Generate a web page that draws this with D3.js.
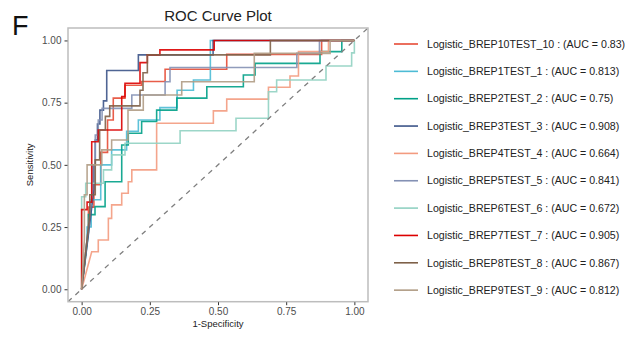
<!DOCTYPE html>
<html><head><meta charset="utf-8">
<script src="https://cdn.jsdelivr.net/npm/d3@7"></script>
<style>body{margin:0;background:#fff;} svg{display:block;font-family:"Liberation Sans",Arial,sans-serif;}</style>
</head><body>
<svg id="chart" width="638" height="350"></svg>
<script>
// ---- data ----
const seriesNames = ["Logistic_BREP10TEST_10","Logistic_BREP1TEST_1","Logistic_BREP2TEST_2","Logistic_BREP3TEST_3","Logistic_BREP4TEST_4","Logistic_BREP5TEST_5","Logistic_BREP6TEST_6","Logistic_BREP7TEST_7","Logistic_BREP8TEST_8","Logistic_BREP9TEST_9"];
const aucLabels = ["0.83","0.813","0.75","0.908","0.664","0.841","0.672","0.905","0.867","0.812"];
const tickValues = [0, 0.25, 0.5, 0.75, 1];

const BREP10_fpr = [0,0.025,0.025,0.045,0.045,0.07,0.07,0.095,0.095,0.116,0.116,0.159,0.159,0.22,0.22,0.306,0.306,0.532,0.532,0.88,0.88,1];
const BREP10_tpr = [0,0.25,0.33,0.33,0.42,0.42,0.55,0.55,0.68,0.68,0.768,0.768,0.82,0.82,0.835,0.835,0.884,0.884,0.944,0.944,1,1];

const BREP1_fpr = [0,0.02,0.02,0.035,0.035,0.07,0.07,0.11,0.11,0.165,0.165,0.208,0.208,0.287,0.287,0.35,0.35,0.41,0.41,0.472,0.472,1];
const BREP1_tpr = [0,0.2,0.25,0.25,0.36,0.36,0.5,0.5,0.56,0.56,0.635,0.635,0.68,0.68,0.73,0.73,0.8,0.8,0.841,0.841,1,1];

const BREP2_fpr = [0,0.025,0.025,0.049,0.049,0.086,0.086,0.147,0.147,0.171,0.171,0.22,0.22,0.275,0.275,0.349,0.349,0.459,0.459,0.593,0.593,0.636,0.636,0.874,0.874,0.954,0.954,1];
const BREP2_tpr = [0,0.23,0.3,0.3,0.332,0.332,0.432,0.432,0.58,0.58,0.627,0.627,0.674,0.674,0.72,0.72,0.768,0.768,0.814,0.814,0.861,0.861,0.908,0.908,0.955,0.955,1,1];

const BREP3_fpr = [0,0.045,0.045,0.05,0.05,0.058,0.058,0.067,0.067,0.08,0.08,0.092,0.092,0.208,0.208,0.482,0.482,1];
const BREP3_tpr = [0,0.4,0.5,0.5,0.6,0.6,0.664,0.664,0.72,0.72,0.757,0.757,0.879,0.879,0.942,0.942,1,1];

const BREP4_fpr = [0,0.037,0.061,0.061,0.098,0.098,0.11,0.11,0.147,0.147,0.171,0.171,0.184,0.184,0.275,0.275,0.483,0.483,0.532,0.532,0.685,0.685,0.764,0.764,0.795,0.795,0.905,0.905,1];
const BREP4_tpr = [0,0.151,0.151,0.198,0.198,0.285,0.285,0.339,0.339,0.386,0.386,0.432,0.432,0.48,0.48,0.667,0.667,0.717,0.717,0.764,0.764,0.812,0.812,0.857,0.857,0.955,0.955,1,1];

const BREP5_fpr = [0,0.04,0.04,0.05,0.05,0.061,0.061,0.075,0.075,0.184,0.184,0.306,0.306,0.324,0.324,0.789,0.789,0.872,0.872,1];
const BREP5_tpr = [0,0.4,0.5,0.5,0.62,0.62,0.68,0.68,0.727,0.727,0.781,0.781,0.834,0.834,0.891,0.891,0.948,0.948,1,1];

const BREP6_fpr = [0,0,0.015,0.015,0.08,0.08,0.11,0.11,0.159,0.159,0.361,0.361,0.566,0.566,0.685,0.685,0.715,0.715,0.896,0.896,0.99,0.99,1,1];
const BREP6_tpr = [0,0.372,0.372,0.426,0.426,0.48,0.48,0.54,0.54,0.587,0.587,0.637,0.637,0.687,0.687,0.794,0.794,0.841,0.841,0.897,0.897,0.95,0.95,1];

const BREP7_fpr = [0,0,0.02,0.02,0.037,0.037,0.061,0.061,0.147,0.147,0.159,0.159,0.214,0.214,0.241,0.241,0.287,0.287,0.486,0.486,1];
const BREP7_tpr = [0,0.32,0.32,0.35,0.35,0.593,0.593,0.64,0.64,0.774,0.774,0.828,0.828,0.911,0.911,0.942,0.942,0.962,0.962,1,1];

const BREP8_fpr = [0,0.03,0.03,0.05,0.05,0.066,0.066,0.087,0.087,0.103,0.103,0.214,0.214,0.225,0.225,0.241,0.241,0.692,0.692,1];
const BREP8_tpr = [0,0.3,0.38,0.38,0.52,0.52,0.64,0.64,0.695,0.695,0.737,0.737,0.8,0.8,0.87,0.87,0.942,0.942,1,1];

const BREP9_fpr = [0,0.01,0.01,0.02,0.02,0.074,0.074,0.11,0.11,0.17,0.17,0.226,0.226,0.367,0.367,0.633,0.633,0.911,0.911,1];
const BREP9_tpr = [0,0.2,0.38,0.38,0.5,0.5,0.56,0.56,0.6,0.6,0.72,0.72,0.781,0.781,0.834,0.834,0.948,0.948,1,1];

const fprList = [BREP10_fpr,BREP1_fpr,BREP2_fpr,BREP3_fpr,BREP4_fpr,BREP5_fpr,BREP6_fpr,BREP7_fpr,BREP8_fpr,BREP9_fpr];
const tprList = [BREP10_tpr,BREP1_tpr,BREP2_tpr,BREP3_tpr,BREP4_tpr,BREP5_tpr,BREP6_tpr,BREP7_tpr,BREP8_tpr,BREP9_tpr];
const palette = ["#E64B35","#4DBBD5","#00A087","#3C5488","#F39B7F","#8491B4","#91D1C2","#DC0000","#7E6148","#B09C85"];

// ---- drawing ----
const svg = d3.select("#chart");
const P = {l:68, r:368, t:28, b:301.7};
const x = d3.scaleLinear().domain([-0.05,1.05]).range([P.l,P.r]);
const y = d3.scaleLinear().domain([-0.05,1.05]).range([P.b,P.t]);

svg.append("text").attr("x",12).attr("y",35).attr("font-size",27).attr("fill","#111").text("F");
svg.append("text").attr("x",(P.l+P.r)/2).attr("y",21).attr("text-anchor","middle")
  .attr("font-size",15).attr("fill","#222").text("ROC Curve Plot");

svg.append("clipPath").attr("id","clip").append("rect")
  .attr("x",P.l).attr("y",P.t).attr("width",P.r-P.l).attr("height",P.b-P.t);

const line = d3.line().x(d=>x(d[0])).y(d=>y(d[1]));
const g = svg.append("g").attr("clip-path","url(#clip)");
seriesNames.forEach((n,i)=>{
  const pts = fprList[i].map((f,j)=>[f,tprList[i][j]]);
  g.append("path").attr("d",line(pts)).attr("fill","none")
   .attr("stroke",palette[i]).attr("stroke-width",1.6).attr("stroke-opacity",0.9)
   .attr("stroke-linejoin","miter");
});
// reference diagonal
g.append("path").attr("d",line([[-0.05,-0.05],[1.05,1.05]])).attr("fill","none")
  .attr("stroke","#7f7f7f").attr("stroke-width",1.3).attr("stroke-dasharray","5,5");

// panel border
svg.append("rect").attr("x",P.l).attr("y",P.t).attr("width",P.r-P.l).attr("height",P.b-P.t)
  .attr("fill","none").attr("stroke","#bdbdbd").attr("stroke-width",1.5);

const fmt = d3.format(".2f");
const ya = svg.append("g").attr("transform",`translate(${P.l-0.5},0)`)
  .call(d3.axisLeft(y).tickValues(tickValues).tickFormat(fmt).tickSize(3).tickPadding(3));
const xa = svg.append("g").attr("transform",`translate(0,${P.b+0.5})`)
  .call(d3.axisBottom(x).tickValues(tickValues).tickFormat(fmt).tickSize(3).tickPadding(3));
[ya,xa].forEach(a=>{
  a.select(".domain").remove();
  a.selectAll(".tick line").attr("stroke","#333");
  a.selectAll(".tick text").attr("fill","#4d4d4d").attr("font-size",10)
   .attr("font-family","'Liberation Sans',Arial,sans-serif");
});

svg.append("text").attr("x",(P.l+P.r)/2).attr("y",327).attr("text-anchor","middle")
  .attr("font-size",9.5).attr("fill","#222").text("1-Specificity");
svg.append("text").attr("transform",`translate(33,${(P.t+P.b)/2}) rotate(-90)`).attr("text-anchor","middle")
  .attr("font-size",9.5).attr("fill","#222").text("Sensitivity");

// legend
const lg = svg.append("g");
seriesNames.forEach((n,i)=>{
  const yy = 44 + i*27.35;
  lg.append("line").attr("x1",394).attr("x2",418).attr("y1",yy).attr("y2",yy)
    .attr("stroke",palette[i]).attr("stroke-width",1.6);
  lg.append("text").attr("x",427).attr("y",yy).attr("dy","0.35em")
    .attr("font-size",10.6).attr("fill","#222").text(`${n} : (AUC = ${aucLabels[i]})`);
});
</script>
</body></html>
